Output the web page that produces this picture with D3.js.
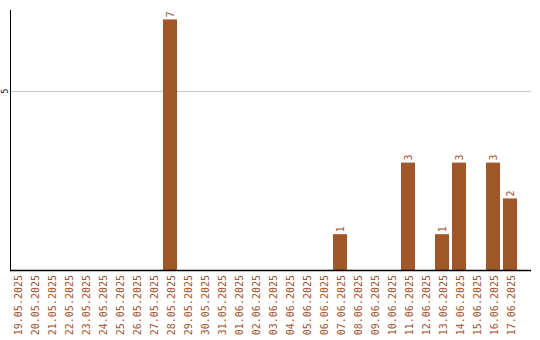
<!DOCTYPE html>
<html>
<head>
<meta charset="utf-8">
<script src="https://cdn.jsdelivr.net/npm/d3@7"></script>
<style>
  html, body { margin: 0; padding: 0; background: #fff; }
  svg { display: block; }
</style>
</head>
<body>
<svg id="chart" width="540" height="340"></svg>
<script>
// Daily counts, 19.05.2025 – 17.06.2025
const dates = [
  "19.05.2025", "20.05.2025", "21.05.2025", "22.05.2025", "23.05.2025",
  "24.05.2025", "25.05.2025", "26.05.2025", "27.05.2025", "28.05.2025",
  "29.05.2025", "30.05.2025", "31.05.2025", "01.06.2025", "02.06.2025",
  "03.06.2025", "04.06.2025", "05.06.2025", "06.06.2025", "07.06.2025",
  "08.06.2025", "09.06.2025", "10.06.2025", "11.06.2025", "12.06.2025",
  "13.06.2025", "14.06.2025", "15.06.2025", "16.06.2025", "17.06.2025"
];
const counts = [
  0, 0, 0, 0, 0,
  0, 0, 0, 0, 7,
  0, 0, 0, 0, 0,
  0, 0, 0, 0, 1,
  0, 0, 0, 3, 0,
  1, 3, 0, 3, 2
];
const yTicks = [5];

const data = dates.map((d, i) => ({ date: d, value: counts[i] }));

const svg = d3.select("#chart");
const plot = { left: 10, right: 531, top: 10, bottom: 270 };
const barColor = "#a0582a";
const labelColor = "#a0522d";
const mono = "'DejaVu Sans Mono', 'Liberation Mono', monospace";

const x = d3.scaleBand()
  .domain(dates)
  .range([plot.left, plot.left + 17 * dates.length - 3])
  .paddingInner(3 / 17)
  .paddingOuter(0);

const y = d3.scaleLinear()
  .domain([0, 5])
  .range([plot.bottom, 91]);

// horizontal grid lines
svg.append("g")
  .selectAll("line")
  .data(yTicks)
  .join("line")
  .attr("x1", plot.left)
  .attr("x2", plot.right)
  .attr("y1", d => Math.round(y(d)) + 0.5)
  .attr("y2", d => Math.round(y(d)) + 0.5)
  .attr("stroke", "#c8c8c8")
  .attr("stroke-width", 1);

// bars
svg.append("g")
  .selectAll("rect")
  .data(data.filter(d => d.value > 0))
  .join("rect")
  .attr("x", d => x(d.date))
  .attr("width", x.bandwidth())
  .attr("y", d => y(d.value))
  .attr("height", d => y(0) - y(d.value))
  .attr("fill", barColor);

// value labels above bars
svg.append("g")
  .selectAll("text")
  .data(data.filter(d => d.value > 0))
  .join("text")
  .attr("transform", d => `translate(${x(d.date) + x.bandwidth() / 2 + 3.5},${y(d.value) - 2}) rotate(-90)`)
  .attr("font-family", mono)
  .attr("font-size", 10)
  .attr("fill", labelColor)
  .text(d => d.value);

// y axis
const yAxis = svg.append("g");
yAxis.append("line")
  .attr("x1", plot.left + 0.5).attr("x2", plot.left + 0.5)
  .attr("y1", plot.top).attr("y2", plot.bottom + 1)
  .attr("stroke", "#000");
yAxis.selectAll("text")
  .data(yTicks)
  .join("text")
  .attr("transform", d => `translate(7.5,${y(d)}) rotate(-90)`)
  .attr("text-anchor", "middle")
  .attr("font-family", mono)
  .attr("font-size", 8)
  .attr("fill", "#000")
  .text(d => d);

// x axis
const xAxis = svg.append("g");
xAxis.append("line")
  .attr("x1", plot.left).attr("x2", plot.right)
  .attr("y1", plot.bottom + 0.5).attr("y2", plot.bottom + 0.5)
  .attr("stroke", "#000")
  .attr("stroke-width", 1.5);
xAxis.selectAll("text")
  .data(dates)
  .join("text")
  .attr("transform", d => `translate(${x(d) + x.bandwidth() / 2 + 4.5},${plot.bottom + 5}) rotate(-90)`)
  .attr("text-anchor", "end")
  .attr("font-family", mono)
  .attr("font-size", 10)
  .attr("fill", labelColor)
  .text(d => d);
</script>
</body>
</html>
